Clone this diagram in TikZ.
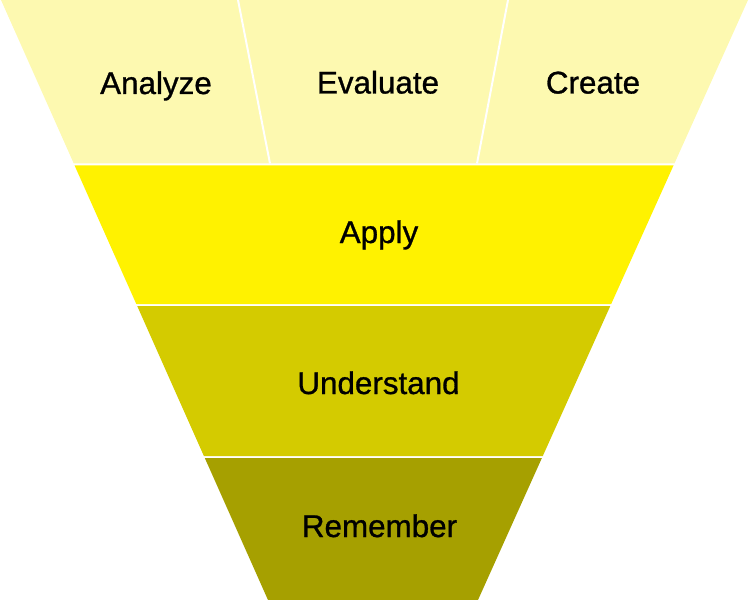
\documentclass[tikz,border=0pt]{standalone}
\usepackage{fontspec}
\setmainfont{Liberation Sans}
\newfontfamily\lblfont[FakeBold=0.9]{Liberation Sans}
\definecolor{cTop}{HTML}{FDF9B0}
\definecolor{cApply}{HTML}{FFF200}
\definecolor{cUnder}{HTML}{D4CB00}
\definecolor{cRem}{HTML}{A6A000}
\begin{document}
\begin{tikzpicture}[x=1bp,y=-1bp,
  lbl/.style={font=\lblfont\fontsize{31.5}{36}\selectfont, text=black, inner sep=0pt, anchor=base},
  divider/.style={draw=white, line width=2bp}]
\useasboundingbox (0,0) rectangle (750,600);
% top band, three pieces
\fill[cTop] (1,0) -- (748,0) -- (674.4,163.5) -- (73.8,163.5) -- cycle;
\coordinate (d1t) at (238,0);
\coordinate (d1b) at (270,163.5);
\coordinate (d2t) at (508,0);
\coordinate (d2b) at (477,163.5);
\draw[divider] (d1t) -- (d1b);
\draw[divider] (d2t) -- (d2b);
% apply
\fill[cApply] (74.6,165.5) -- (673.5,165.5) -- (611.2,304) -- (136.3,304) -- cycle;
% understand
\fill[cUnder] (137.2,306) -- (610.3,306) -- (542.8,456) -- (203.9,456) -- cycle;
% remember
\fill[cRem] (204.8,458) -- (541.9,458) -- (478,600) -- (268,600) -- cycle;
% labels
\node[lbl] (analyze) at (156,94) {Analyze};
\node[lbl] (evaluate) at (378,93.5) {Evaluate};
\node[lbl] (create) at (593,93.5) {Create};
\node[lbl] (apply) at (379,243) {Apply};
\node[lbl] (understand) at (378.5,394) {Understand};
\node[lbl] (remember) at (379.5,537) {Remember};
\end{tikzpicture}
\end{document}
